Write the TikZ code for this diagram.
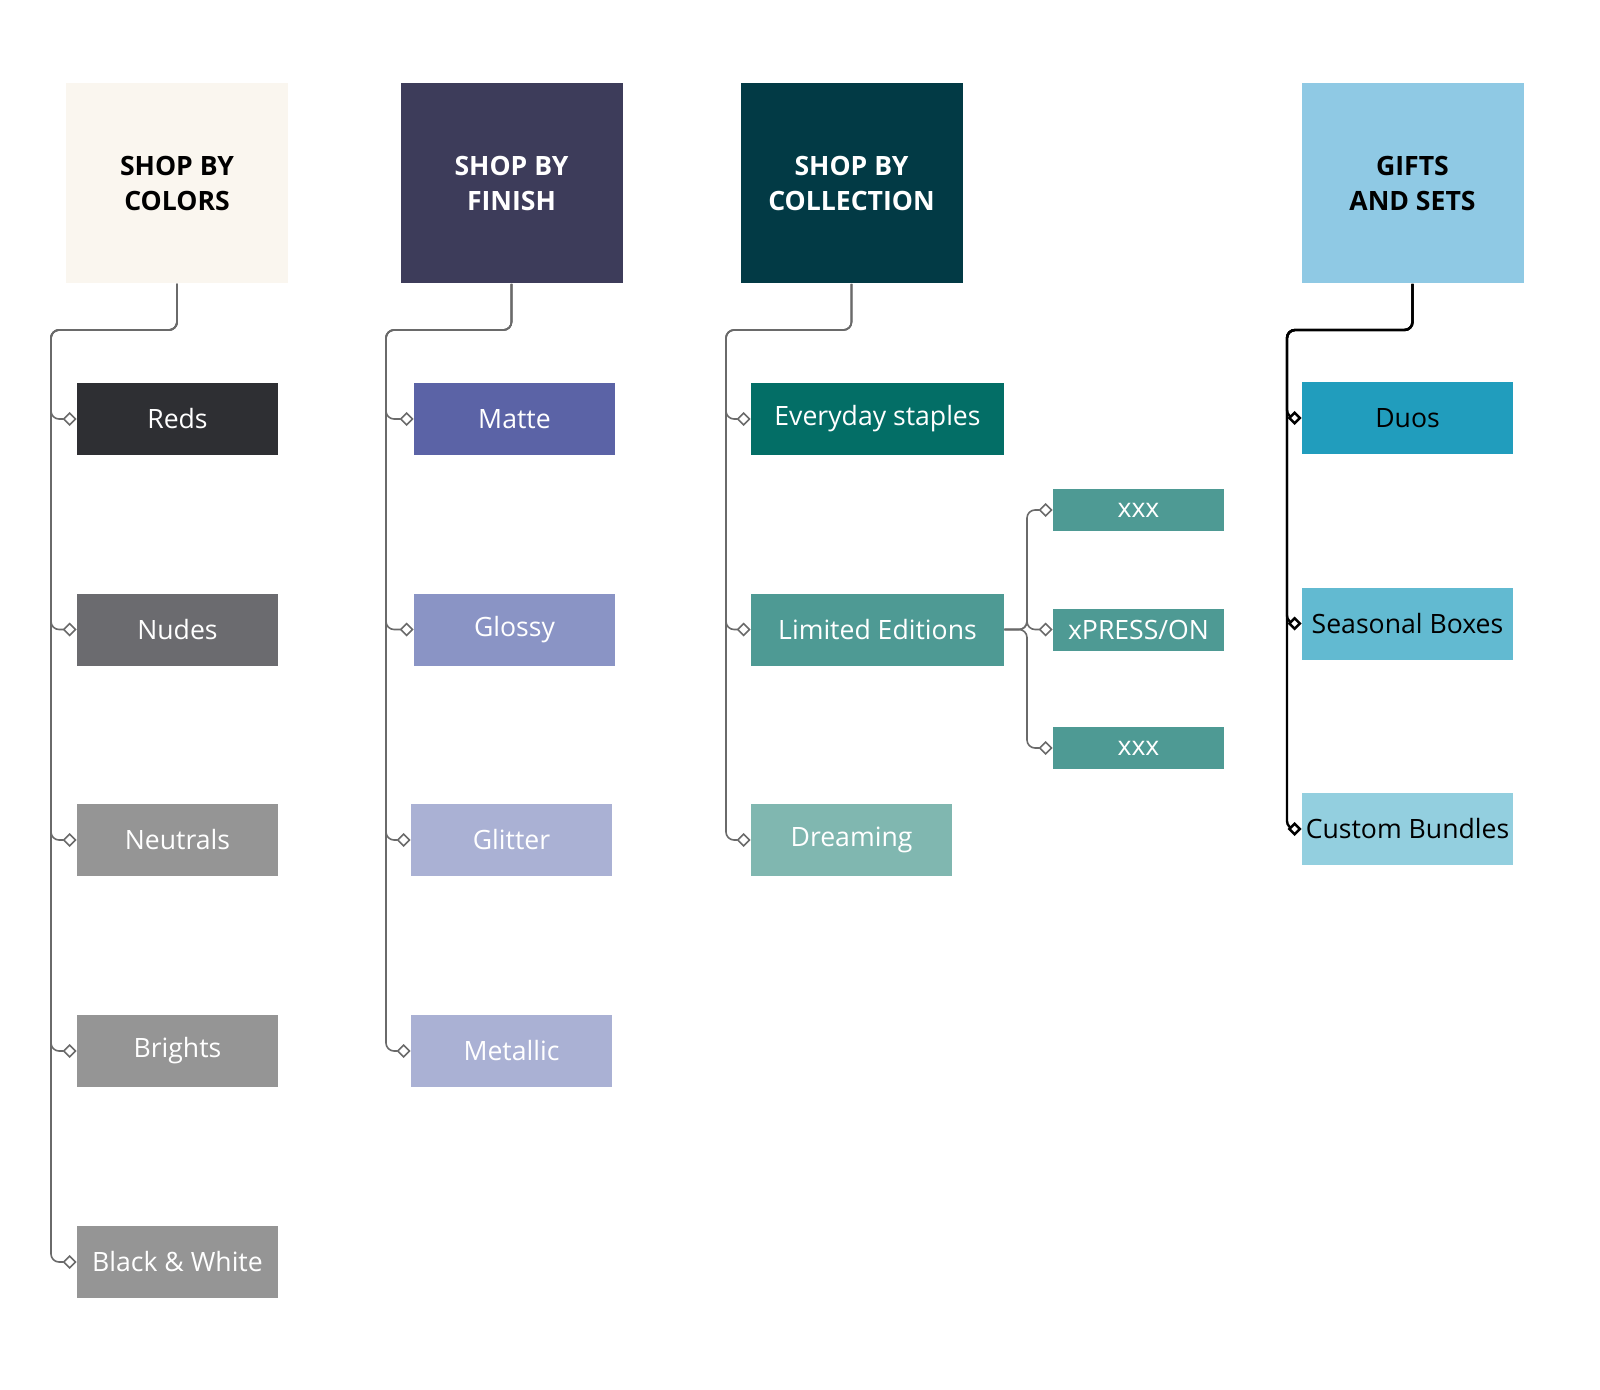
\documentclass[tikz,border=0pt]{standalone}
\usepackage{fontspec}
\setmainfont{Open Sans}
\usetikzlibrary{arrows.meta}
\usetikzlibrary{positioning}
\definecolor{hcream}{HTML}{FAF6EF}
\definecolor{hnavy}{HTML}{3D3C5A}
\definecolor{hteal}{HTML}{023A45}
\definecolor{hsky}{HTML}{8FC9E4}
\definecolor{creds}{HTML}{2E2F33}
\definecolor{cnudes}{HTML}{6B6B6F}
\definecolor{cgrey}{HTML}{959595}
\definecolor{fmatte}{HTML}{5B63A6}
\definecolor{fglossy}{HTML}{8A94C5}
\definecolor{fglitter}{HTML}{AAB1D4}
\definecolor{ceveryday}{HTML}{036E66}
\definecolor{climited}{HTML}{4E9A94}
\definecolor{cdreaming}{HTML}{80B7B0}
\definecolor{gduos}{HTML}{219DBD}
\definecolor{gseasonal}{HTML}{62BAD1}
\definecolor{gcustom}{HTML}{93CFDF}
\definecolor{lgrey}{HTML}{6A6A6A}
\tikzset{header/.style = {minimum width=111pt, minimum height=100pt, inner sep=0pt,
                          align=center, font=\bfseries\fontsize{13.3}{17.5}\selectfont},
         item/.style = {minimum height=36pt, inner sep=0pt, text=white,
                        font=\fontsize{13.3}{16}\selectfont},
         link/.style = {draw=lgrey, line width=0.8pt, rounded corners=4pt,
                        -{Diamond[fill=white, length=7pt, width=7pt]}},
         darklink/.style = {link, draw=black, line width=1.2pt}}

\begin{document}
\begin{tikzpicture}[x=0.5pt, y=-0.5pt]
    \useasboundingbox (0, 0) rectangle (1600, 1390);

    % headers
    \node [header, fill=hcream] (hcolors) at (177, 183.5) {SHOP BY\\COLORS};
    \node [header, fill=hnavy, text=white] (hfinish) at (511.5, 183.5) {SHOP BY\\FINISH};
    \node [header, fill=hteal, text=white] (hcoll) at (851.5, 183.5) {SHOP BY\\COLLECTION};
    \node [header, fill=hsky] (hgifts) at (1412.5, 183.5) {GIFTS\\AND SETS};

    \coordinate (kcolors) at (51, 330);
    \coordinate (kfinish) at (386, 330);
    \coordinate (kcoll) at (726, 330);
    \coordinate (kgifts) at (1287, 330);

    \foreach \n/\txt/\y/\colour in {1/Reds/419/creds, 2/Nudes/629.5/cnudes, 3/Neutrals/840/cgrey,
                                    4/Brights/1051/cgrey, 5/Black \& White/1262/cgrey} {
      \node [item, fill=\colour, minimum width=100.5pt] (colors\n) at (177.5, \y) {\txt};
      \draw [link] (hcolors.south) |- (kcolors) |- (colors\n.west);
    }

    \foreach \n/\txt/\x/\y/\colour in {1/Matte/514.5/419/fmatte, 2/Glossy/514.5/629.5/fglossy,
                                       3/Glitter/511.5/840/fglitter, 4/Metallic/511.5/1051/fglitter} {
      \node [item, fill=\colour, minimum width=100.5pt] (finish\n) at (\x, \y) {\txt};
      \draw [link] (hfinish.south) |- (kfinish) |- (finish\n.west);
    }

    \foreach \n/\txt/\x/\w/\y/\colour in {1/Everyday staples/877.5/126.5/419/ceveryday,
                                          2/Limited Editions/877.5/126.5/629.5/climited,
                                          3/Dreaming/851.5/100.5/840/cdreaming} {
      \node [item, fill=\colour, minimum width=\w pt] (coll\n) at (\x, \y) {\txt};
      \draw [link] (hcoll.south) |- (kcoll) |- (coll\n.west);
    }

    \coordinate (ksub) at (1027, 629.5);
    \foreach \n/\txt/\y in {1/xxx/510, 2/xPRESS\slash ON/629.5, 3/xxx/748} {
      \node [item, fill=climited, minimum width=85.5pt, minimum height=21pt] (sub\n) at (1138.5, \y) {\txt};
      \draw [link] (coll2.east) -- (ksub) |- (sub\n.west);
    }

    \foreach \n/\txt/\y/\colour in {1/Duos/418/gduos, 2/Seasonal Boxes/623.5/gseasonal,
                                    3/Custom Bundles/829/gcustom} {
      \node [item, fill=\colour, text=black, minimum width=105.5pt] (gifts\n) at (1407.5, \y) {\txt};
      \draw [darklink] (hgifts.south) |- (kgifts) |- (gifts\n.west);
    }
\end{tikzpicture}
\end{document}
